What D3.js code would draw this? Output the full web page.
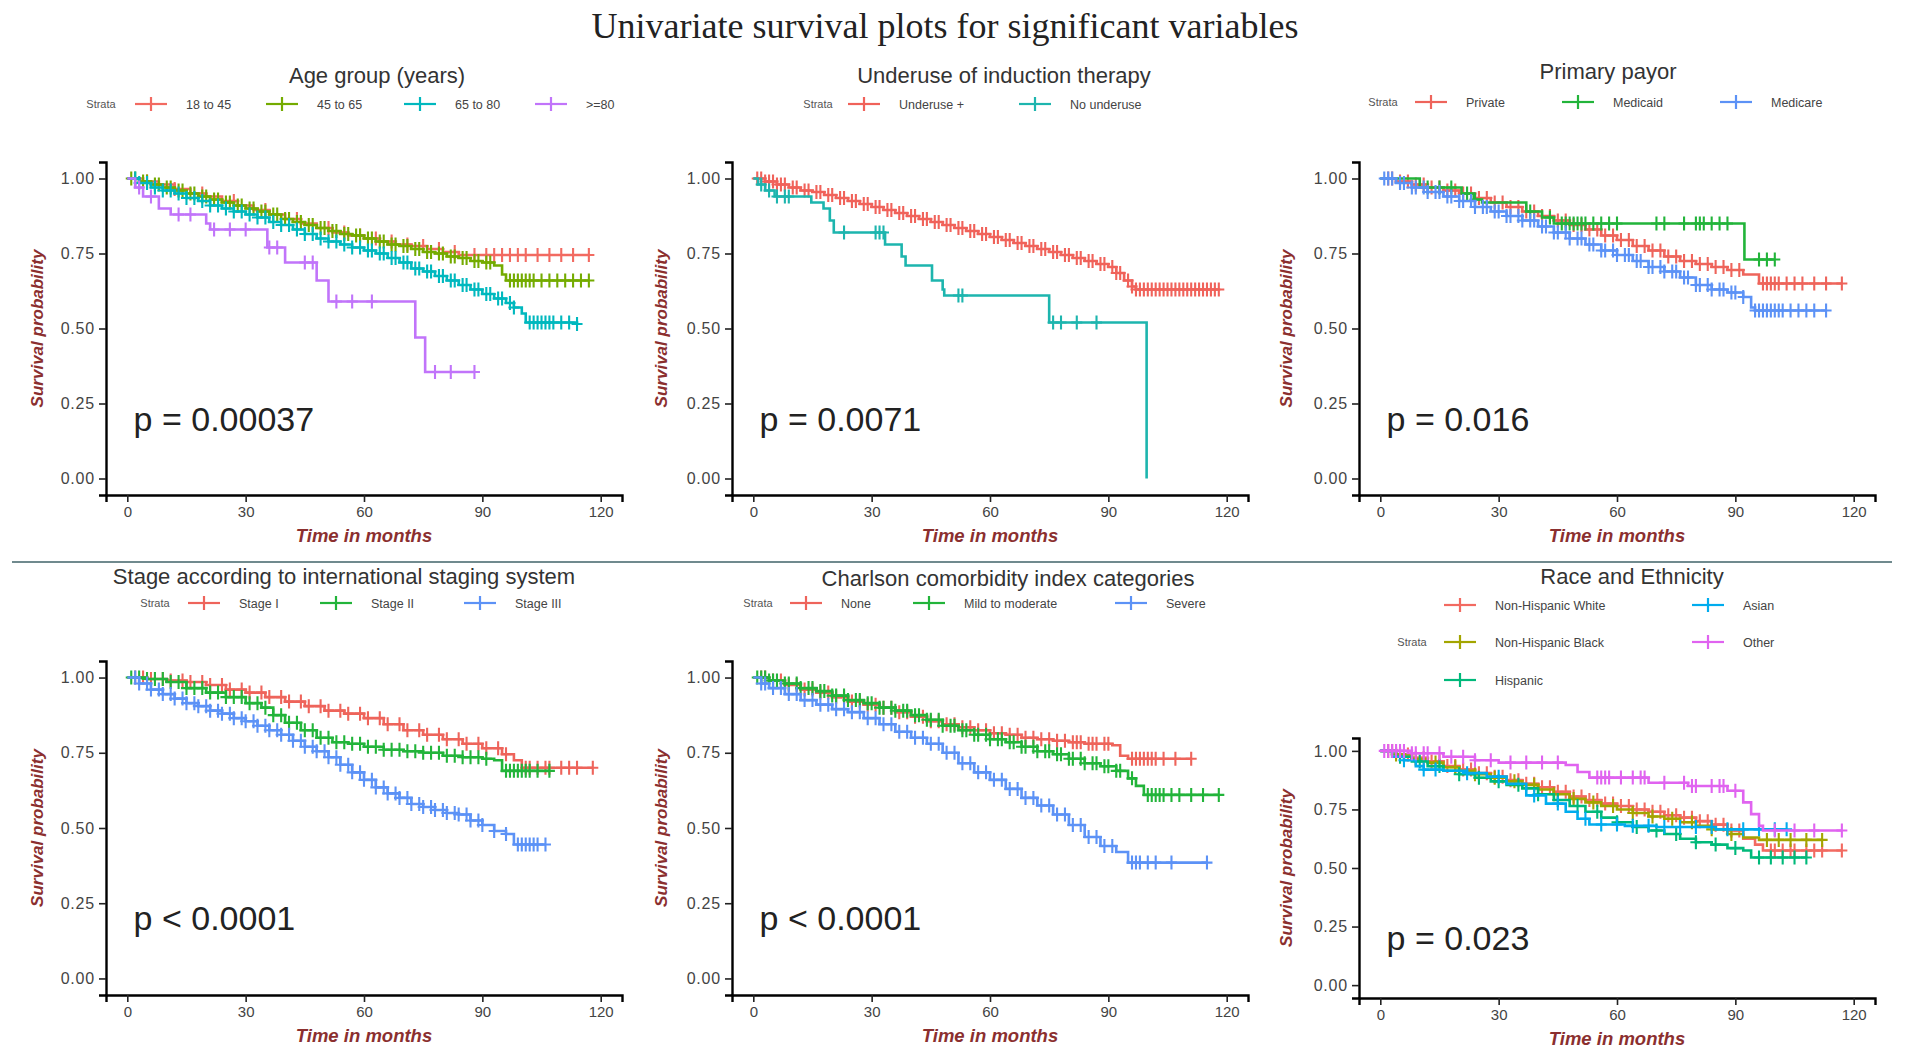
<!DOCTYPE html>
<html><head><meta charset="utf-8">
<script src="https://cdn.jsdelivr.net/npm/d3@7"></script>
<style>body{margin:0;background:#fff}svg{display:block}</style>
</head><body>
<svg id="c" width="1920" height="1062"></svg>
<script>
// ---------------- DATA ----------------
const mainTitle = "Univariate survival plots for significant variables";
const panelTitles = ["Age group (years)","Underuse of induction therapy","Primary payor","Stage according to international staging system","Charlson comorbidity index categories","Race and Ethnicity"];
const pValues = ["p = 0.00037","p = 0.0071","p = 0.016","p < 0.0001","p < 0.0001","p = 0.023"];
const xTickVals = [0,30,60,90,120];
const xTickLabels = ["0","30","60","90","120"];
const yTickVals = [0,0.25,0.5,0.75,1];
const yTickLabels = ["0.00","0.25","0.50","0.75","1.00"];
const xTitle = "Time in months";
const yTitle = "Survival probability";
const strataLabel = "Strata";

const ageLabels = ["18 to 45","45 to 65","65 to 80",">=80"];
const underuseLabels = ["Underuse +","No underuse"];
const payorLabels = ["Private","Medicaid","Medicare"];
const stageLabels = ["Stage I","Stage II","Stage III"];
const cciLabels = ["None","Mild to moderate","Severe"];
const raceLabels = ["Non-Hispanic White","Non-Hispanic Black","Hispanic","Asian","Other"];

// Kaplan-Meier steps: [time, survival after step]
const age18 = [[0,1],[4,0.99],[8,0.98],[12,0.965],[16,0.95],[20,0.94],[24,0.925],[28,0.91],[32,0.895],[36,0.88],[40,0.865],[44,0.85],[48,0.835],[52,0.82],[56,0.81],[60,0.80],[64,0.79],[68,0.78],[72,0.775],[76,0.765],[80,0.755],[84,0.745],[117,0.745]];
const age45 = [[0,1],[3,0.99],[6,0.98],[9,0.97],[12,0.96],[15,0.95],[18,0.94],[21,0.93],[24,0.92],[27,0.91],[30,0.90],[33,0.89],[36,0.88],[39,0.865],[42,0.855],[45,0.845],[48,0.835],[51,0.825],[54,0.815],[57,0.81],[60,0.80],[63,0.79],[66,0.78],[69,0.775],[72,0.765],[75,0.755],[78,0.75],[81,0.74],[84,0.735],[87,0.725],[90,0.72],[93,0.71],[95,0.68],[96,0.66],[117,0.66]];
const age65 = [[0,1],[3,0.985],[6,0.97],[9,0.96],[12,0.95],[15,0.935],[18,0.925],[21,0.91],[24,0.90],[27,0.89],[30,0.88],[33,0.87],[36,0.855],[39,0.845],[42,0.83],[45,0.815],[48,0.80],[51,0.79],[54,0.78],[57,0.77],[60,0.76],[63,0.75],[66,0.735],[69,0.72],[72,0.70],[75,0.69],[78,0.675],[81,0.66],[84,0.645],[87,0.63],[90,0.615],[93,0.60],[96,0.585],[98,0.57],[100,0.55],[101,0.52],[114,0.515]];
const age80 = [[0,1],[2,0.97],[4,0.94],[8,0.90],[11,0.88],[20,0.85],[21,0.83],[35.5,0.77],[40,0.72],[48,0.66],[51,0.59],[73,0.47],[75.5,0.355],[88,0.355]];
const age18Cens = [5,12,19,27,35,43,51,55,59,63,67,71,75,79,83,88,91,93,95,97,99,101,104,107,110,113,117];
const age45Cens = [1,2,4,5,7,8,10,11,13,14,16,17,19,20,22,23,25,26,28,29,31,32,34,35,37,38,40,41,43,44,46,47,49,50,52,53,55,56,58,59,61,62,64,65,67,68,70,71,73,74,76,77,79,80,82,83,85,86,88,89,91,92,97,98,99,100,101,102,103,105,107,109,111,113,115,117];
const age65Cens = [2,3,5,7,9,11,13,15,17,19,21,23,25,27,29,31,33,35,37,39,41,43,45,47,49,51,53,55,57,59,61,62,64,65,67,68,70,71,73,74,76,77,79,80,82,83,85,86,88,89,91,92,94,95,97,98,102,103,104,105,106,107,108,110,112,114];
const age80Cens = [3,6,13,16,22,26,30,36,38,45,47,53,57,62,78,82,88];

const underYes = [[0,1],[3,0.99],[6,0.98],[9,0.97],[12,0.96],[15,0.955],[18,0.945],[21,0.935],[24,0.925],[27,0.915],[30,0.905],[33,0.895],[36,0.885],[39,0.875],[42,0.865],[45,0.855],[48,0.845],[51,0.835],[54,0.825],[57,0.815],[60,0.805],[63,0.795],[66,0.785],[69,0.775],[72,0.765],[75,0.755],[78,0.745],[81,0.735],[84,0.725],[87,0.715],[90,0.705],[92,0.685],[94,0.66],[96,0.64],[97,0.63],[118,0.63]];
const underNo = [[0,1],[1.2,0.98],[3,0.96],[5.4,0.94],[14.7,0.92],[17.8,0.90],[19.4,0.86],[20.4,0.82],[33.4,0.78],[37.6,0.74],[38.6,0.71],[45.3,0.66],[48,0.63],[48.4,0.61],[75,0.52],[99.7,0]];
const underYesCens = [1,2,3,4,5,6,7,8,10,11,13,14,16,17,19,20,22,23,25,26,28,29,31,32,34,35,37,38,40,41,43,44,46,47,49,50,52,53,55,56,58,59,61,62,64,65,67,68,70,71,73,74,76,77,79,80,82,83,85,86,88,89,91,92,93,95,96,97,98,99,100,101,102,103,104,105,106,107,108,109,110,111,112,113,114,115,116,117,118];
const underNoCens = [2,4,6,8,9,23,31,32,33,52,53,76,78,82,87];

const payPrivate = [[0,1],[4,0.99],[8,0.98],[12,0.97],[16,0.96],[20,0.95],[24,0.935],[28,0.92],[32,0.905],[36,0.89],[40,0.875],[44,0.86],[48,0.845],[52,0.83],[56,0.81],[60,0.795],[64,0.775],[68,0.76],[72,0.74],[76,0.725],[80,0.715],[84,0.705],[88,0.695],[92,0.68],[96,0.65],[117,0.65]];
const payMedicaid = [[0,1],[10,0.97],[20.6,0.95],[23.7,0.93],[25.8,0.92],[37,0.89],[41,0.87],[44,0.85],[92.3,0.73],[100,0.73]];
const payMedicare = [[0,1],[4,0.985],[8,0.97],[12,0.955],[16,0.94],[20,0.925],[24,0.905],[28,0.89],[32,0.875],[36,0.86],[40,0.84],[44,0.82],[48,0.80],[52,0.78],[56,0.76],[60,0.745],[64,0.725],[68,0.705],[72,0.69],[76,0.67],[80,0.645],[84,0.63],[88,0.62],[92,0.605],[94,0.57],[95,0.56],[113,0.56]];
const payPrivateCens = [2,3,5,7,9,11,13,15,17,19,21,23,25,27,29,31,33,35,37,39,41,43,45,47,49,51,53,55,57,59,61,63,65,67,69,71,73,75,77,79,81,83,85,87,89,91,97,98,99,100,101,103,105,107,110,113,117];
const payMedicaidCens = [12,15,18,22,24,38,43,46,47,48,49,50,51,52,54,56,58,60,70,72,77,80,81,82,84,86,88,96,98,100];
const payMedicareCens = [1,2,3,5,6,8,9,11,12,14,15,17,18,20,21,23,24,26,27,29,30,32,33,35,36,38,39,41,42,44,45,47,48,50,51,53,54,56,57,59,60,62,63,65,66,68,69,71,72,74,75,77,78,80,81,83,84,86,87,89,90,92,95,96,97,98,99,100,101,102,104,106,108,110,113];

const stage1 = [[0,1],[5,0.995],[10,0.99],[15,0.985],[20,0.975],[25,0.96],[30,0.95],[35,0.935],[40,0.92],[45,0.905],[50,0.89],[55,0.88],[60,0.865],[65,0.845],[70,0.825],[75,0.81],[80,0.795],[85,0.78],[90,0.765],[95,0.745],[98,0.725],[100,0.70],[118,0.70]];
const stage2 = [[0,1],[5,0.995],[10,0.985],[15,0.965],[20,0.95],[25,0.935],[30,0.915],[34,0.90],[37,0.875],[40,0.85],[44,0.825],[48,0.80],[52,0.785],[56,0.78],[60,0.77],[65,0.76],[70,0.755],[75,0.75],[80,0.74],[85,0.735],[90,0.73],[93,0.725],[95,0.69],[107,0.69]];
const stage3 = [[0,1],[3,0.98],[6,0.96],[9,0.945],[12,0.93],[15,0.915],[18,0.905],[21,0.89],[24,0.88],[27,0.865],[30,0.855],[33,0.84],[36,0.825],[39,0.81],[42,0.79],[45,0.77],[48,0.755],[51,0.735],[54,0.71],[57,0.685],[60,0.66],[63,0.635],[66,0.615],[69,0.60],[72,0.58],[75,0.57],[78,0.56],[81,0.55],[84,0.545],[87,0.525],[90,0.51],[93,0.49],[96,0.48],[98,0.445],[106,0.445]];
const stage1Cens = [2,4,6,9,11,14,16,19,21,24,26,29,31,34,36,39,41,44,46,49,51,54,56,59,61,64,66,69,71,74,76,79,81,84,86,89,91,94,96,101,102,104,106,107,110,112,114,118];
const stage2Cens = [1,3,5,7,9,11,13,15,17,19,21,23,25,27,29,31,33,35,37,39,41,43,45,47,49,51,53,55,57,59,61,63,65,67,69,71,73,75,77,79,81,83,85,87,89,91,96,97,98,99,100,101,102,104,107];
const stage3Cens = [2,3,5,6,8,9,11,12,14,15,17,18,20,21,23,24,26,27,29,30,32,33,35,36,38,39,41,42,44,45,47,48,50,51,53,54,56,57,59,60,62,63,65,66,68,69,71,72,74,75,77,78,80,81,83,84,86,87,89,90,93,96,99,100,101,102,103,104,106];

const cciNone = [[0,1],[4,0.99],[8,0.975],[12,0.96],[16,0.95],[20,0.935],[24,0.92],[28,0.91],[32,0.90],[36,0.885],[40,0.87],[44,0.855],[48,0.845],[52,0.835],[56,0.825],[60,0.815],[64,0.81],[68,0.80],[72,0.795],[76,0.79],[80,0.785],[84,0.78],[88,0.78],[91,0.775],[93,0.74],[95,0.73],[111,0.73]];
const cciMild = [[0,1],[4,0.99],[8,0.98],[12,0.965],[16,0.955],[20,0.94],[24,0.925],[28,0.915],[32,0.90],[36,0.89],[40,0.875],[44,0.86],[48,0.84],[52,0.825],[56,0.81],[60,0.795],[64,0.785],[68,0.77],[72,0.755],[76,0.745],[80,0.73],[84,0.715],[88,0.705],[92,0.69],[95,0.665],[97,0.64],[99,0.61],[118,0.61]];
const cciSevere = [[0,1],[2,0.98],[4,0.965],[8,0.945],[12,0.925],[16,0.91],[20,0.895],[24,0.885],[28,0.865],[32,0.845],[36,0.82],[40,0.80],[44,0.78],[48,0.75],[52,0.715],[56,0.685],[60,0.66],[64,0.63],[68,0.60],[72,0.575],[76,0.545],[80,0.51],[84,0.47],[88,0.44],[92,0.42],[95,0.385],[115,0.385]];
const cciNoneCens = [2,3,5,7,9,11,13,15,17,19,21,23,25,27,29,31,33,35,37,39,41,43,45,47,49,51,53,55,57,59,61,63,65,67,69,71,73,75,77,79,81,82,83,85,86,87,89,90,96,97,98,99,100,101,102,104,107,111];
const cciMildCens = [1,2,3,4,5,6,8,9,11,12,14,15,17,18,20,21,23,24,26,27,29,30,32,33,35,36,38,39,41,42,44,45,47,48,50,51,53,54,56,57,59,60,62,63,65,66,68,69,71,72,74,75,77,78,80,81,83,84,86,87,89,90,92,93,96,100,101,102,103,104,106,108,111,114,118];
const cciSevereCens = [2,3,5,7,9,11,13,15,17,19,21,23,25,27,29,31,33,35,37,39,41,43,45,47,49,51,53,55,57,59,61,63,65,67,69,71,73,75,77,79,81,83,85,87,89,91,96,97,98,100,102,106,115];

const raceWhite = [[0,1],[4,0.985],[8,0.97],[12,0.955],[16,0.935],[20,0.92],[24,0.905],[28,0.89],[32,0.875],[36,0.86],[40,0.845],[44,0.825],[48,0.805],[52,0.79],[56,0.775],[60,0.765],[64,0.75],[68,0.74],[72,0.725],[76,0.715],[80,0.70],[84,0.685],[88,0.66],[92,0.625],[95,0.60],[97,0.575],[117,0.575]];
const raceBlack = [[0,1],[4,0.985],[8,0.965],[12,0.95],[16,0.93],[20,0.915],[24,0.90],[28,0.885],[32,0.87],[36,0.855],[40,0.835],[44,0.815],[48,0.795],[52,0.78],[56,0.765],[60,0.75],[64,0.735],[68,0.72],[72,0.71],[76,0.695],[80,0.68],[84,0.665],[88,0.645],[92,0.63],[96,0.62],[112,0.62]];
const raceHispanic = [[0,1],[4,0.975],[8,0.955],[12,0.935],[16,0.915],[20,0.90],[24,0.885],[28,0.87],[32,0.855],[36,0.84],[40,0.815],[44,0.79],[48,0.765],[52,0.74],[56,0.715],[60,0.695],[64,0.675],[68,0.66],[72,0.645],[76,0.625],[80,0.61],[84,0.60],[88,0.585],[92,0.575],[94,0.545],[108,0.545]];
const raceAsian = [[0,1],[3,0.975],[6,0.96],[9,0.935],[11,0.92],[16,0.915],[22,0.905],[27,0.89],[32,0.86],[37,0.81],[42,0.775],[47,0.74],[50,0.71],[53,0.686],[62,0.68],[70,0.675],[78,0.675],[85,0.665],[103,0.665]];
const raceOther = [[0,1],[8,0.99],[16,0.975],[24,0.96],[30,0.95],[47,0.94],[50,0.91],[53,0.886],[68,0.864],[78,0.85],[88,0.83],[92,0.78],[94,0.73],[96,0.68],[97,0.66],[117,0.66]];
const raceWhiteCens = [2,3,5,7,9,11,13,15,17,19,21,23,25,27,29,31,33,35,37,39,41,43,45,47,49,51,53,55,57,59,61,63,65,67,69,71,73,75,77,79,81,83,85,87,89,91,99,100,102,104,105,108,110,112,117];
const raceBlackCens = [4,9,14,19,24,29,34,39,44,49,54,59,64,69,74,79,84,89,98,101,104,108,112];
const raceHispanicCens = [5,10,15,20,25,30,35,40,45,50,55,60,65,70,75,80,85,90,96,99,102,105,108];
const raceAsianCens = [6,11,14,22,30,39,45,52,56,60,64,68,72,76,80,84,88,92,96,100,103];
const raceOtherCens = [1,2,3,4,5,6,8,9,11,12,15,18,21,24,28,33,37,41,45,55,56,57,58,61,64,66,67,72,77,79,80,84,86,87,90,100,105,110,117];

// colours (ggplot hue palettes)
const hue4 = ["#F26A61","#74AB00","#00B8BE","#C174FA"];
const hue2 = ["#F0625A","#1DB5AE"];
const hue3 = ["#EE645B","#22B43A","#5C92F6"];
const hue5 = ["#F26A61","#A3A500","#00B97A","#00ACEE","#E063F0"];

// ---------------- LAYOUT ----------------
const W = 516;
const layouts = [
  {x0:106, yb:495, yt:162, tx:377, ty:75, strataX:101, strataY:104, keys:[[151,104],[282,104],[420,104],[551,104]], ytx:37},
  {x0:732, yb:495, yt:162, tx:1004, ty:75, strataX:818, strataY:104, keys:[[864,104],[1035,104]], ytx:661},
  {x0:1359, yb:495, yt:162, tx:1608, ty:71, strataX:1383, strataY:102, keys:[[1431,102],[1578,102],[1736,102]], ytx:1286},
  {x0:106, yb:995, yt:661, tx:344, ty:576, strataX:155, strataY:603, keys:[[204,603],[336,603],[480,603]], ytx:37},
  {x0:732, yb:995, yt:661, tx:1008, ty:578, strataX:758, strataY:603, keys:[[806,603],[929,603],[1131,603]], ytx:661},
  {x0:1359, yb:998, yt:738, tx:1632, ty:576, strataX:1412, strataY:642, keys:[[1460,605],[1460,642],[1460,680],[1708,605],[1708,642]], ytx:1286}
];

const panels = [
  {labels:ageLabels, colors:hue4, series:[age18,age45,age65,age80], cens:[age18Cens,age45Cens,age65Cens,age80Cens]},
  {labels:underuseLabels, colors:hue2, series:[underYes,underNo], cens:[underYesCens,underNoCens]},
  {labels:payorLabels, colors:hue3, series:[payPrivate,payMedicaid,payMedicare], cens:[payPrivateCens,payMedicaidCens,payMedicareCens]},
  {labels:stageLabels, colors:hue3, series:[stage1,stage2,stage3], cens:[stage1Cens,stage2Cens,stage3Cens]},
  {labels:cciLabels, colors:hue3, series:[cciNone,cciMild,cciSevere], cens:[cciNoneCens,cciMildCens,cciSevereCens]},
  {labels:raceLabels, colors:hue5, series:[raceWhite,raceBlack,raceHispanic,raceAsian,raceOther], cens:[raceWhiteCens,raceBlackCens,raceHispanicCens,raceAsianCens,raceOtherCens]}
];

const SANS = "'Liberation Sans', Arial, sans-serif";
const AXT = "#8B2F2F";
const svg = d3.select("#c");

// main title
const mt = svg.append("text").attr("x",945).attr("y",38).attr("text-anchor","middle")
  .attr("font-family","'Liberation Serif','DejaVu Serif',serif").attr("font-size",33).attr("fill","#222").text(mainTitle);
{ const w = mt.node().getComputedTextLength(); mt.attr("font-size", 33*707/w); }

// separator
svg.append("line").attr("x1",12).attr("x2",1892).attr("y1",562).attr("y2",562).attr("stroke","#708a8e").attr("stroke-width",2);

function survAt(series, t){ let s = series[0][1]; for (const d of series){ if (d[0] <= t) s = d[1]; else break; } return s; }

panels.forEach((p, pi) => {
  const L = layouts[pi];
  const g = svg.append("g");
  const x = d3.scaleLinear().domain([-5.4,125.4]).range([L.x0, L.x0+W]);
  const y = d3.scaleLinear().domain([-0.055,1.055]).range([L.yb, L.yt]);

  // title
  g.append("text").attr("x",L.tx).attr("y",L.ty+8).attr("text-anchor","middle").attr("font-family",SANS)
    .attr("font-size",22).attr("fill","#333").text(panelTitles[pi]);

  // legend
  g.append("text").attr("x",L.strataX).attr("y",L.strataY+4).attr("text-anchor","middle").attr("font-family",SANS)
    .attr("font-size",11).attr("fill","#555").text(strataLabel);
  p.labels.forEach((lab,i)=>{
    const [kx,ky] = L.keys[i];
    g.append("line").attr("x1",kx-16).attr("x2",kx+16).attr("y1",ky).attr("y2",ky).attr("stroke",p.colors[i]).attr("stroke-width",2.2);
    g.append("line").attr("x1",kx).attr("x2",kx).attr("y1",ky-7).attr("y2",ky+7).attr("stroke",p.colors[i]).attr("stroke-width",2.2);
    g.append("text").attr("x",kx+35).attr("y",ky+4.5).attr("font-family",SANS).attr("font-size",12.5).attr("fill","#444").text(lab);
  });

  // axes
  const xa = g.append("g").attr("transform",`translate(0,${L.yb})`)
    .call(d3.axisBottom(x).tickValues(xTickVals).tickFormat((d,i)=>xTickLabels[i]).tickSizeOuter(0).tickSize(7).tickPadding(4));
  const ya = g.append("g").attr("transform",`translate(${L.x0},0)`)
    .call(d3.axisLeft(y).tickValues(yTickVals).tickFormat((d,i)=>yTickLabels[i]).tickSizeOuter(0).tickSize(7).tickPadding(4));
  [xa,ya].forEach(a=>{
    a.select(".domain").attr("stroke","#000").attr("stroke-width",2.4);
    a.selectAll(".tick line").attr("stroke","#222").attr("stroke-width",1.6);
    a.selectAll(".tick text").attr("font-family",SANS).attr("fill","#444");
  });
  xa.selectAll(".tick text").attr("font-size",15);
  ya.selectAll(".tick text").attr("font-size",16).attr("letter-spacing",0.8);

  // axis titles
  g.append("text").attr("x",x(60)).attr("y",L.yb+47).attr("text-anchor","middle").attr("font-family",SANS)
    .attr("font-size",18.5).attr("font-style","italic").attr("font-weight","bold").attr("fill",AXT).text(xTitle);
  g.append("text").attr("transform",`translate(${L.ytx},${(y(0)+y(1))/2}) rotate(-90)`).attr("text-anchor","middle")
    .attr("dy","0.35em").attr("font-family",SANS).attr("font-size",17).attr("font-style","italic").attr("font-weight","bold")
    .attr("fill",AXT).text(yTitle);

  // curves
  const line = d3.line().x(d=>x(d[0])).y(d=>y(d[1])).curve(d3.curveStepAfter);
  p.series.forEach((s,i)=>{
    g.append("path").datum(s).attr("d",line).attr("fill","none").attr("stroke",p.colors[i]).attr("stroke-width",2.6);
    g.append("g").selectAll("path").data(p.cens[i]).join("path")
      .attr("d",t=>{const cx=x(t), cy=y(survAt(s,t)); return `M${cx-5.5},${cy}H${cx+5.5}M${cx},${cy-7}V${cy+7}`;})
      .attr("stroke",p.colors[i]).attr("stroke-width",2.1).attr("fill","none");
  });

  // p value
  g.append("text").attr("x",x(1.6)).attr("y",y(0.2)+12).attr("font-family",SANS).attr("font-size",34)
    .attr("fill","#222").text(pValues[pi]);
});
</script>
</body></html>
